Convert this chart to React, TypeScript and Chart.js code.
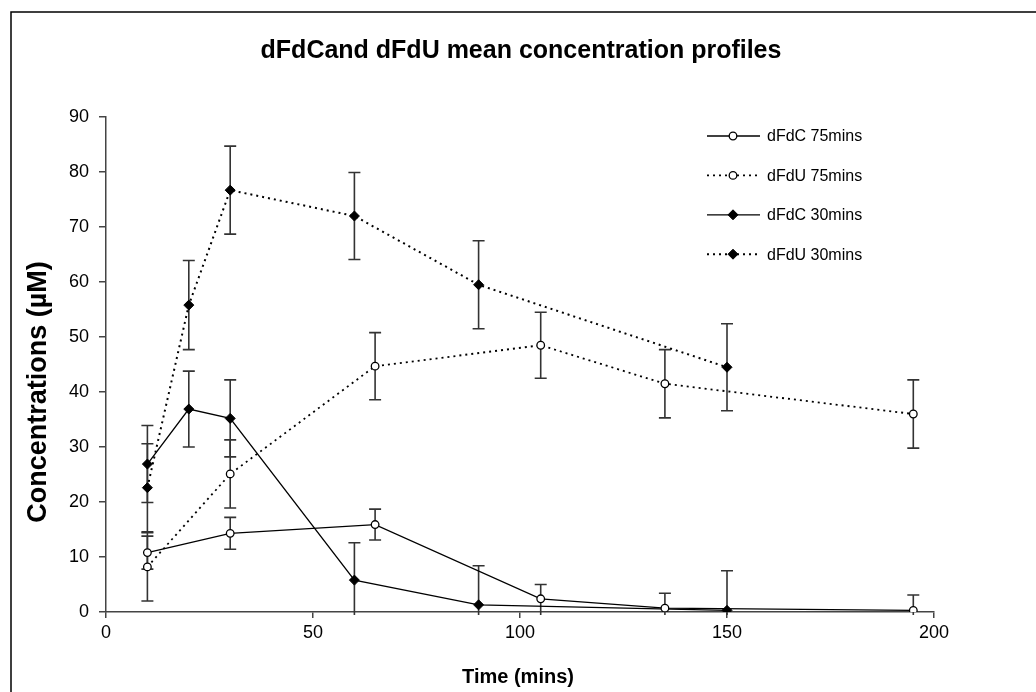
import React, { useEffect, useRef } from "react";
import { Chart, registerables } from "chart.js";

Chart.register(...registerables);

// ---- Data ----
const chartTitle = "dFdCand dFdU mean concentration profiles";
const xAxisTitle = "Time (mins)";
const yAxisTitle = "Concentrations (µM)";

const seriesLabels = ["dFdC 75mins", "dFdU 75mins", "dFdC 30mins", "dFdU 30mins"];

const times75 = [10, 30, 65, 105, 135, 195];
const times30 = [10, 20, 30, 60, 90, 150];

const dFdC75 = [10.8, 14.3, 15.9, 2.4, 0.7, 0.3];
const dFdC75Err = [3.0, 2.9, 2.8, 2.6, 2.7, 2.8];

const dFdU75 = [8.2, 25.1, 44.7, 48.5, 41.5, 36.0];
const dFdU75Err = [6.2, 6.2, 6.1, 6.0, 6.2, 6.2];

const dFdC30 = [26.9, 36.9, 35.2, 5.8, 1.3, 0.3];
const dFdC30Err = [7.0, 6.9, 7.0, 6.8, 7.1, 7.2];

const dFdU30 = [22.6, 55.8, 76.7, 72.0, 59.5, 44.5];
const dFdU30Err = [8.0, 8.1, 8.0, 7.9, 8.0, 7.9];

const xTicks = [0, 50, 100, 150, 200];
const yTicks = [0, 10, 20, 30, 40, 50, 60, 70, 80, 90];

const FONT = "Arial, 'Liberation Sans', Helvetica, sans-serif";

function pts(xs: number[], ys: number[]) {
  return xs.map((x, i) => ({ x, y: ys[i] }));
}

const errorBarPlugin = {
  id: "errorBars",
  beforeDatasetsDraw(chart: any) {
    const ctx = chart.ctx;
    const ys = chart.scales.y;
    const area = chart.chartArea;
    ctx.save();
    ctx.strokeStyle = "#333";
    ctx.lineWidth = 1.6;
    ctx.setLineDash([]);
    chart.data.datasets.forEach((ds: any, di: number) => {
      const meta = chart.getDatasetMeta(di);
      meta.data.forEach((el: any, i: number) => {
        const v = ds.data[i].y;
        const e = ds.errors[i];
        const x = el.x;
        const top = ys.getPixelForValue(v + e);
        const lowVal = v - e;
        const bottom = lowVal < ys.min ? area.bottom + 3 : ys.getPixelForValue(lowVal);
        ctx.beginPath();
        ctx.moveTo(x, top);
        ctx.lineTo(x, bottom);
        ctx.moveTo(x - 6, top);
        ctx.lineTo(x + 6, top);
        if (lowVal >= ys.min) {
          ctx.moveTo(x - 6, bottom);
          ctx.lineTo(x + 6, bottom);
        }
        ctx.stroke();
      });
    });
    ctx.restore();
  },
};

function drawMarker(ctx: CanvasRenderingContext2D, ds: any, x: number, y: number) {
  ctx.save();
  ctx.setLineDash([]);
  ctx.fillStyle = ds.pointBackgroundColor;
  ctx.strokeStyle = ds.pointBorderColor;
  ctx.lineWidth = ds.pointBorderWidth;
  const r = ds.pointRadius;
  ctx.beginPath();
  if (ds.pointStyle === "rectRot") {
    ctx.moveTo(x, y - r);
    ctx.lineTo(x + r, y);
    ctx.lineTo(x, y + r);
    ctx.lineTo(x - r, y);
    ctx.closePath();
  } else {
    ctx.arc(x, y, r, 0, Math.PI * 2);
  }
  ctx.fill();
  ctx.stroke();
  ctx.restore();
}

const decorPlugin = {
  id: "decor",
  afterDraw(chart: any) {
    const ctx = chart.ctx;
    ctx.save();
    // frame
    ctx.strokeStyle = "#000";
    ctx.lineWidth = 1.5;
    ctx.beginPath();
    ctx.moveTo(11, 700);
    ctx.lineTo(11, 12);
    ctx.lineTo(1040, 12);
    ctx.stroke();

    // title
    ctx.fillStyle = "#000";
    ctx.textAlign = "center";
    ctx.textBaseline = "middle";
    ctx.font = `bold 25px ${FONT}`;
    ctx.fillText(chartTitle, 521, 51);

    // x title
    ctx.font = `bold 20px ${FONT}`;
    ctx.fillText(xAxisTitle, 518, 677);

    // y title
    ctx.save();
    ctx.translate(39, 392);
    ctx.rotate(-Math.PI / 2);
    ctx.font = `bold 27px ${FONT}`;
    ctx.fillText(yAxisTitle, 0, 0);
    ctx.restore();

    // legend
    chart.data.datasets.forEach((ds: any, i: number) => {
      const y = 136 + i * 39.4;
      ctx.save();
      ctx.strokeStyle = ds.borderColor;
      ctx.lineWidth = ds.borderWidth;
      ctx.setLineDash(ds.borderDash || []);
      ctx.beginPath();
      ctx.moveTo(707, y);
      ctx.lineTo(760, y);
      ctx.stroke();
      ctx.restore();
      drawMarker(ctx, ds, 733, y);
      ctx.fillStyle = "#000";
      ctx.textAlign = "left";
      ctx.textBaseline = "middle";
      ctx.font = `16px ${FONT}`;
      ctx.fillText(ds.label, 767, y + 1);
    });
    ctx.restore();
  },
};

export default function App() {
  const canvasRef = useRef<HTMLCanvasElement | null>(null);

  useEffect(() => {
    const canvas = canvasRef.current;
    if (!canvas) return;

    const openStyle = {
      pointStyle: "circle",
      pointRadius: 3.8,
      pointHoverRadius: 3.8,
      pointBackgroundColor: "#fff",
      pointBorderColor: "#000",
      pointBorderWidth: 1.3,
    };
    const diamondStyle = {
      pointStyle: "rectRot",
      pointRadius: 5,
      pointHoverRadius: 5,
      pointBackgroundColor: "#000",
      pointBorderColor: "#000",
      pointBorderWidth: 1,
    };

    const chart = new Chart(canvas, {
      type: "line",
      data: {
        datasets: [
          {
            label: seriesLabels[0],
            data: pts(times75, dFdC75),
            errors: dFdC75Err,
            borderColor: "#000",
            borderWidth: 1.3,
            borderDash: [],
            ...openStyle,
          } as any,
          {
            label: seriesLabels[1],
            data: pts(times75, dFdU75),
            errors: dFdU75Err,
            borderColor: "#000",
            borderWidth: 1.8,
            borderDash: [2, 4],
            ...openStyle,
          } as any,
          {
            label: seriesLabels[2],
            data: pts(times30, dFdC30),
            errors: dFdC30Err,
            borderColor: "#000",
            borderWidth: 1.3,
            borderDash: [],
            ...diamondStyle,
          } as any,
          {
            label: seriesLabels[3],
            data: pts(times30, dFdU30),
            errors: dFdU30Err,
            borderColor: "#000",
            borderWidth: 2,
            borderDash: [2, 4],
            ...diamondStyle,
          } as any,
        ],
      },
      options: {
        responsive: false,
        animation: false,
        devicePixelRatio: 1,
        layout: { padding: { left: 0, right: 102, top: 117, bottom: 0 } },
        plugins: {
          legend: { display: false },
          title: { display: false },
          tooltip: { enabled: false },
        },
        elements: { line: { tension: 0, fill: false } },
        scales: {
          x: {
            type: "linear",
            min: xTicks[0],
            max: xTicks[xTicks.length - 1],
            afterBuildTicks: (s: any) => {
              s.ticks = xTicks.map((v) => ({ value: v }));
            },
            afterFit: (s: any) => {
              s.height = 80;
            },
            border: { color: "#444", width: 1.5 },
            grid: { drawOnChartArea: false, drawTicks: true, tickLength: 6, color: "#444", lineWidth: 1.5 },
            ticks: { color: "#000", padding: 4, font: { size: 18, family: FONT }, maxRotation: 0 },
          },
          y: {
            type: "linear",
            min: yTicks[0],
            max: yTicks[yTicks.length - 1],
            afterBuildTicks: (s: any) => {
              s.ticks = yTicks.map((v) => ({ value: v }));
            },
            afterFit: (s: any) => {
              s.width = 106;
            },
            border: { color: "#444", width: 1.5 },
            grid: { drawOnChartArea: false, drawTicks: true, tickLength: 7, color: "#444", lineWidth: 1.5 },
            ticks: { color: "#000", padding: 10, font: { size: 18, family: FONT } },
          },
        },
      } as any,
      plugins: [errorBarPlugin, decorPlugin],
    });

    return () => chart.destroy();
  }, []);

  return (
    <div style={{ position: "absolute", left: 0, top: 0, width: 1036, height: 692, overflow: "hidden", background: "#fff" }}>
      <canvas ref={canvasRef} width={1036} height={692} style={{ display: "block" }} />
    </div>
  );
}
